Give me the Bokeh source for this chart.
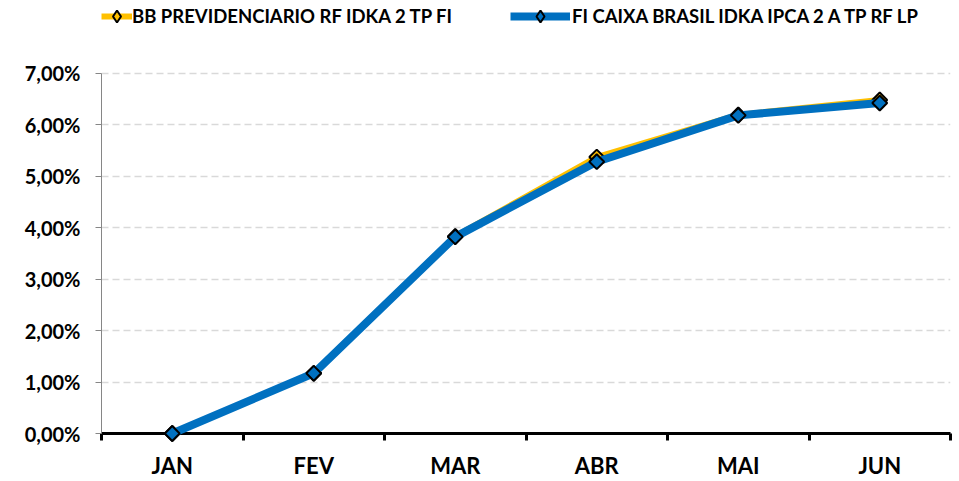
import math
from bokeh.plotting import figure
from bokeh.models import (FixedTicker, CustomJSTickFormatter, Legend, LegendItem,
                          Range1d, ColumnDataSource)
from bokeh.embed import file_html
from bokeh.resources import INLINE

# ---- data ----
months = ["JAN", "FEV", "MAR", "ABR", "MAI", "JUN"]
bb_values = [0.00, 1.17, 3.83, 5.37, 6.19, 6.48]
caixa_values = [0.00, 1.17, 3.82, 5.28, 6.18, 6.42]
bb_name = "BB PREVIDENCIARIO RF IDKA 2 TP FI"
caixa_name = "FI CAIXA BRASIL IDKA IPCA 2 A TP RF LP"
y_ticks = [0, 1, 2, 3, 4, 5, 6, 7]

FONT = "Lato"
YELLOW = "#FFC000"
BLUE = "#0070C0"

# frame spans the full top of the picture so the legend (drawn inside it) is not clipped;
# the axis and grid are bounded to the tick span
FRAME_H = 435          # px from picture top to the zero line
AXIS_SPAN = 362        # px between 0 % and 7 %
y_end = y_ticks[-1] * FRAME_H / AXIS_SPAN

x_pos = [i + 0.5 for i in range(len(months))]
src = ColumnDataSource(dict(x=x_pos, month=months, bb=bb_values, caixa=caixa_values))

p = figure(width=959, height=481, output_backend="svg", toolbar_location=None,
           x_range=Range1d(0, len(months)), y_range=Range1d(y_ticks[0], y_end),
           min_border_left=101, min_border_right=9, min_border_top=0, min_border_bottom=46)
p.outline_line_color = None
p.background_fill_color = "white"
p.border_fill_color = "white"

mk = dict(marker="square", angle=math.pi / 4, size=10.5, line_color="black", line_width=2,
          level="overlay")
bb_line = p.line("x", "bb", source=src, line_color=YELLOW, line_width=6, line_join="round",
                 level="overlay")
bb_pts = p.scatter("x", "bb", source=src, fill_color=YELLOW, **mk)
cx_line = p.line("x", "caixa", source=src, line_color=BLUE, line_width=8, line_join="round",
                 level="overlay")
cx_pts = p.scatter("x", "caixa", source=src, fill_color=BLUE, **mk)

# hidden diamond renderers used only for the legend swatches
lg = dict(marker="diamond", size=13, line_color="black", line_width=2, visible=False)
bb_key = p.scatter("x", "bb", source=src, fill_color=YELLOW, **lg)
cx_key = p.scatter("x", "caixa", source=src, fill_color=BLUE, **lg)

# x axis
xa = p.xaxis[0]
xa.ticker = FixedTicker(ticks=x_pos, minor_ticks=list(range(len(months) + 1)))
xa.formatter = CustomJSTickFormatter(args=dict(months=months),
                                     code="return months[Math.floor(tick)];")
xa.axis_line_color = "black"
xa.axis_line_width = 3
xa.major_tick_in = 0
xa.major_tick_out = 0
xa.minor_tick_in = 0
xa.minor_tick_out = 7
xa.minor_tick_line_width = 3
xa.minor_tick_line_color = "black"
xa.major_label_text_font = FONT
xa.major_label_text_font_size = "22px"
xa.major_label_text_font_style = "bold"
xa.major_label_text_color = "black"
xa.major_label_standoff = 11

# y axis
ya = p.yaxis[0]
ya.ticker = FixedTicker(ticks=y_ticks)
ya.bounds = (y_ticks[0], y_ticks[-1])
ya.formatter = CustomJSTickFormatter(code="return tick.toFixed(2).replace('.', ',') + '%';")
ya.axis_line_color = "#868686"
ya.axis_line_width = 1
ya.major_tick_in = 0
ya.major_tick_out = 6
ya.major_tick_line_color = "#868686"
ya.minor_tick_line_color = None
ya.major_label_text_font = FONT
ya.major_label_text_font_size = "20px"
ya.major_label_text_font_style = "bold"
ya.major_label_text_color = "black"
ya.major_label_standoff = 15

p.xgrid.grid_line_color = None
p.ygrid.grid_line_color = "#D9D9D9"
p.ygrid.grid_line_width = 1.5
p.ygrid.grid_line_dash = "7 4"

common = dict(orientation="horizontal", padding=0, margin=0, border_line_color=None,
              background_fill_alpha=0, label_text_font=FONT, label_text_font_size="18.5px",
              label_text_font_style="bold", label_text_color="black", glyph_height=30,
              click_policy="none")
leg1 = Legend(items=[LegendItem(label=bb_name, renderers=[bb_line, bb_key])],
              location=(0, 402), glyph_width=31, label_standoff=0, **common)
leg2 = Legend(items=[LegendItem(label=caixa_name, renderers=[cx_line, cx_key])],
              location=(409, 402), glyph_width=60, label_standoff=2, **common)
p.add_layout(leg1, "center")
p.add_layout(leg2, "center")

open("out.html", "w").write(file_html(p, INLINE))
